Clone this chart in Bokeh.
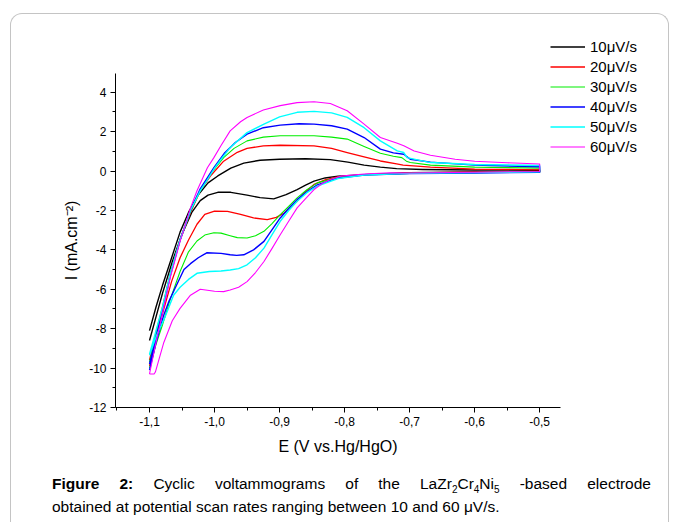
from bokeh.plotting import figure
from bokeh.layouts import column
from bokeh.models import (Range1d, FixedTicker, Legend, LegendItem, Div,
                          CustomJSTickFormatter, InlineStyleSheet)
from bokeh.embed import file_html
from bokeh.resources import INLINE

FONT = "Liberation Sans"

rates = ["10μV/s", "20μV/s", "30μV/s", "40μV/s", "50μV/s", "60μV/s"]
colors = ["#000000", "#ff0000", "#00ee00", "#0000ff", "#00ffff", "#ff00ff"]
widths = [1.4, 1.3, 1.1, 1.4, 1.4, 1.1]

x_major = [-1.1, -1.0, -0.9, -0.8, -0.7, -0.6, -0.5]
x_minor = [-1.15, -1.05, -0.95, -0.85, -0.75, -0.65, -0.55]
y_major = [-12, -10, -8, -6, -4, -2, 0, 2, 4]
y_minor = [-11, -9, -7, -5, -3, -1, 1, 3]

# 10 uV/s  (forward = anodic sweep, back = cathodic sweep)
e10_fwd = [-1.100, -1.090, -1.080, -1.068, -1.053, -1.040, -1.025, -1.010, -0.995, -0.975,
           -0.955, -0.930, -0.900, -0.860, -0.822, -0.795, -0.770, -0.745, -0.720, -0.680,
           -0.600, -0.500]
i10_fwd = [-8.1, -6.9, -5.8, -4.6, -3.1, -2.1, -1.2, -0.6, -0.25, 0.15,
           0.40, 0.55, 0.60, 0.62, 0.58, 0.45, 0.30, 0.20, 0.12, 0.08,
           0.05, 0.04]
e10_back = [-0.500, -0.600, -0.700, -0.770, -0.810, -0.830, -0.847, -0.860, -0.873, -0.890,
            -0.909, -0.930, -0.950, -0.975, -0.995, -1.010, -1.022, -1.035, -1.050, -1.065,
            -1.080, -1.090, -1.100]
i10_back = [-0.02, -0.04, -0.08, -0.18, -0.26, -0.35, -0.51, -0.72, -0.94, -1.20,
            -1.41, -1.35, -1.22, -1.08, -1.08, -1.22, -1.50, -2.10, -3.20, -4.60,
            -6.20, -7.40, -8.60]

# 20 uV/s
e20_fwd = [-1.100, -1.090, -1.080, -1.068, -1.053, -1.037, -1.022, -1.005, -0.986, -0.965,
           -0.950, -0.925, -0.899, -0.847, -0.820, -0.796, -0.770, -0.745, -0.720, -0.710,
           -0.668, -0.600, -0.500]
i20_fwd = [-9.6, -8.2, -6.9, -5.2, -3.5, -2.1, -1.0, -0.2, 0.5, 0.95,
           1.15, 1.28, 1.31, 1.28, 1.15, 0.94, 0.72, 0.51, 0.36, 0.30,
           0.20, 0.10, 0.06]
e20_back = [-0.500, -0.600, -0.700, -0.770, -0.811, -0.830, -0.847, -0.860, -0.873, -0.893,
            -0.905, -0.919, -0.940, -0.960, -0.980, -1.000, -1.015, -1.027, -1.040, -1.053,
            -1.066, -1.078, -1.090, -1.100]
i20_back = [-0.03, -0.06, -0.10, -0.18, -0.30, -0.45, -0.68, -1.05, -1.53, -2.13,
            -2.35, -2.47, -2.38, -2.20, -2.05, -2.04, -2.20, -2.70, -3.50, -4.40,
            -5.60, -7.00, -8.40, -9.90]

# 30 uV/s
e30_fwd = [-1.100, -1.090, -1.080, -1.068, -1.053, -1.037, -1.022, -1.005, -0.986, -0.970,
           -0.950, -0.925, -0.899, -0.847, -0.820, -0.796, -0.770, -0.745, -0.725, -0.712,
           -0.705, -0.699, -0.668, -0.600, -0.500]
i30_fwd = [-9.7, -8.3, -7.0, -5.2, -3.5, -2.05, -1.0, -0.1, 0.68, 1.15,
           1.53, 1.72, 1.79, 1.79, 1.72, 1.62, 1.25, 0.90, 0.75, 0.68,
           0.50, 0.43, 0.30, 0.20, 0.15]
e30_back = [-0.500, -0.600, -0.700, -0.770, -0.810, -0.842, -0.858, -0.873, -0.886, -0.899,
            -0.912, -0.924, -0.937, -0.950, -0.965, -0.976, -0.990, -1.001, -1.015, -1.027,
            -1.040, -1.053, -1.068, -1.080, -1.090, -1.100]
i30_back = [-0.05, -0.08, -0.12, -0.20, -0.32, -0.60, -0.95, -1.36, -1.80, -2.21,
            -2.68, -3.06, -3.28, -3.40, -3.38, -3.28, -3.15, -3.13, -3.25, -3.55,
            -4.10, -5.10, -6.50, -7.80, -8.80, -10.0]

# 40 uV/s
e40_fwd = [-1.100, -1.090, -1.080, -1.068, -1.053, -1.037, -1.022, -1.001, -0.985, -0.968,
           -0.950, -0.925, -0.899, -0.870, -0.847, -0.820, -0.796, -0.770, -0.745, -0.725,
           -0.709, -0.699, -0.668, -0.600, -0.500]
i40_fwd = [-9.8, -8.4, -7.1, -5.3, -3.5, -2.0, -0.9, 0.17, 0.90, 1.45,
           1.87, 2.20, 2.33, 2.40, 2.38, 2.30, 2.13, 1.70, 1.11, 0.92,
           0.85, 0.60, 0.45, 0.30, 0.22]
e40_back = [-0.500, -0.600, -0.700, -0.770, -0.810, -0.842, -0.858, -0.873, -0.886, -0.899,
            -0.912, -0.924, -0.940, -0.955, -0.966, -0.976, -0.990, -1.012, -1.025, -1.037,
            -1.047, -1.060, -1.070, -1.078, -1.090, -1.100]
i40_back = [-0.06, -0.10, -0.13, -0.20, -0.35, -0.70, -1.05, -1.45, -1.90, -2.38,
            -3.00, -3.57, -4.00, -4.25, -4.28, -4.25, -4.18, -4.15, -4.40, -4.70,
            -5.00, -5.90, -6.60, -7.30, -8.70, -10.1]

# 50 uV/s
e50_fwd = [-1.100, -1.090, -1.080, -1.068, -1.053, -1.037, -1.022, -1.012, -1.000, -0.990,
           -0.976, -0.950, -0.924, -0.900, -0.873, -0.847, -0.820, -0.796, -0.770, -0.745,
           -0.719, -0.709, -0.704, -0.668, -0.600, -0.500]
i50_fwd = [-9.3, -8.1, -6.9, -5.2, -3.5, -2.0, -1.0, -0.5, 0.15, 0.60,
           1.19, 1.95, 2.38, 2.75, 2.98, 3.03, 2.95, 2.72, 2.20, 1.53,
           1.02, 0.94, 0.68, 0.43, 0.33, 0.28]
e50_back = [-0.500, -0.600, -0.700, -0.770, -0.810, -0.842, -0.858, -0.873, -0.886, -0.899,
            -0.912, -0.924, -0.937, -0.950, -0.963, -0.976, -0.990, -1.008, -1.027, -1.040,
            -1.053, -1.063, -1.076, -1.089, -1.100]
i50_back = [-0.04, -0.08, -0.12, -0.20, -0.38, -0.77, -1.10, -1.53, -2.00, -2.55,
            -3.25, -3.91, -4.40, -4.76, -4.95, -5.02, -5.07, -5.10, -5.19, -5.50,
            -5.90, -6.30, -7.40, -8.33, -9.35]

# 60 uV/s
e60_fwd = [-1.100, -1.090, -1.080, -1.068, -1.053, -1.037, -1.027, -1.011, -1.001, -0.990,
           -0.976, -0.960, -0.950, -0.925, -0.899, -0.873, -0.847, -0.822, -0.796, -0.770,
           -0.745, -0.719, -0.709, -0.693, -0.668, -0.630, -0.600, -0.550, -0.500]
i60_fwd = [-10.3, -8.7, -7.2, -5.4, -3.57, -1.87, -1.0, 0.17, 0.68, 1.30,
           2.04, 2.50, 2.72, 3.10, 3.32, 3.47, 3.52, 3.43, 3.06, 2.38,
           1.70, 1.41, 1.28, 1.02, 0.80, 0.60, 0.50, 0.42, 0.36]
e60_back = [-0.500, -0.600, -0.700, -0.730, -0.770, -0.806, -0.822, -0.835, -0.847, -0.860,
            -0.873, -0.886, -0.899, -0.912, -0.924, -0.937, -0.950, -0.963, -0.976, -0.986,
            -1.000, -1.022, -1.037, -1.053, -1.065, -1.078, -1.091, -1.093, -1.100]
i60_back = [-0.02, -0.06, -0.10, -0.09, -0.15, -0.26, -0.43, -0.65, -0.94, -1.40,
            -1.87, -2.55, -3.23, -3.95, -4.59, -5.15, -5.61, -5.90, -6.04, -6.12,
            -6.10, -6.00, -6.30, -6.97, -7.60, -8.70, -10.2, -10.3, -10.3]

series_e = [e10_fwd + e10_back, e20_fwd + e20_back, e30_fwd + e30_back,
            e40_fwd + e40_back, e50_fwd + e50_back, e60_fwd + e60_back]
series_i = [i10_fwd + i10_back, i20_fwd + i20_back, i30_fwd + i30_back,
            i40_fwd + i40_back, i50_fwd + i50_back, i60_fwd + i60_back]

p = figure(frame_width=445, frame_height=334,
           min_border_left=115, min_border_right=109,
           min_border_top=73, min_border_bottom=52,
           x_range=Range1d(-1.1523, -0.468), y_range=Range1d(-12, 4.95),
           output_backend="svg", toolbar_location=None, tools="")
p.outline_line_color = None
p.grid.visible = False
p.background_fill_color = "white"
p.border_fill_color = "white"

renderers = []
for e, i, c, w in zip(series_e, series_i, colors, widths):
    r = p.line(e, i, line_color=c, line_width=w, line_join="round")
    renderers.append(r)

for ax in (p.xaxis[0], p.yaxis[0]):
    ax.axis_line_color = "black"
    ax.major_tick_line_color = "black"
    ax.minor_tick_line_color = "black"
    ax.major_tick_in = 0
    ax.major_tick_out = 5
    ax.minor_tick_in = 0
    ax.minor_tick_out = 3
    ax.major_label_text_font = FONT
    ax.major_label_text_font_size = "12px"
    ax.major_label_text_color = "black"
    ax.axis_label_text_font = FONT
    ax.axis_label_text_font_size = "16px"
    ax.axis_label_text_font_style = "normal"
    ax.axis_label_text_color = "black"

p.xaxis.ticker = FixedTicker(ticks=x_major, minor_ticks=x_minor)
p.yaxis.ticker = FixedTicker(ticks=y_major, minor_ticks=y_minor)
p.xaxis.formatter = CustomJSTickFormatter(code="return tick.toFixed(1).replace('.', ',');")
p.yaxis.formatter = CustomJSTickFormatter(code="return tick.toFixed(0);")
p.xaxis.axis_label = "E (V vs.Hg/HgO)"
p.yaxis.axis_label = "I (mA.cm\u207b\u00b2)"
p.xaxis.major_label_standoff = 4
p.yaxis.major_label_standoff = 4
p.xaxis.axis_label_standoff = 9
p.yaxis.axis_label_standoff = 6

items = [LegendItem(label=lab, renderers=[r]) for lab, r in zip(rates, renderers)]
legend = Legend(items=items, location=(-10, 252), orientation="vertical",
                border_line_color=None, background_fill_alpha=0,
                padding=0, margin=0, spacing=3,
                glyph_width=35, glyph_height=17, label_height=17,
                label_standoff=5, label_text_font=FONT,
                label_text_font_size="15px", label_text_color="black")
p.add_layout(legend, "right")

caption_html = (
    "<div style=\"font-family:'Liberation Sans',Arial,sans-serif;font-size:15.5px;"
    "line-height:23px;color:#000;padding:8px 0 0 47px;width:599px;box-sizing:content-box;\">"
    "<div style=\"text-align:justify;text-align-last:justify;white-space:nowrap;\">"
    "<b>Figure 2:</b> Cyclic voltammograms of the LaZr"
    "<sub style=\"font-size:10px;line-height:0;vertical-align:-4px;\">2</sub>Cr"
    "<sub style=\"font-size:10px;line-height:0;vertical-align:-4px;\">4</sub>Ni"
    "<sub style=\"font-size:10px;line-height:0;vertical-align:-4px;\">5</sub> -based electrode</div>"
    "<div style=\"white-space:nowrap;\">obtained at potential scan rates ranging between 10 and 60 μV/s.</div>"
    "</div>"
)
caption = Div(text=caption_html, width=669, height=60)

frame_css = InlineStyleSheet(css=""":host::after {
  content: ''; position: absolute; left: 10px; top: 13px; width: 659px; height: 509px;
  border: 1px solid #c4c4c4; border-bottom: none; border-radius: 12px 12px 0 0;
  box-sizing: border-box; pointer-events: none;
}""")
layout = column(p, caption, spacing=0, stylesheets=[frame_css])

open("out.html", "w").write(file_html(layout, INLINE))
